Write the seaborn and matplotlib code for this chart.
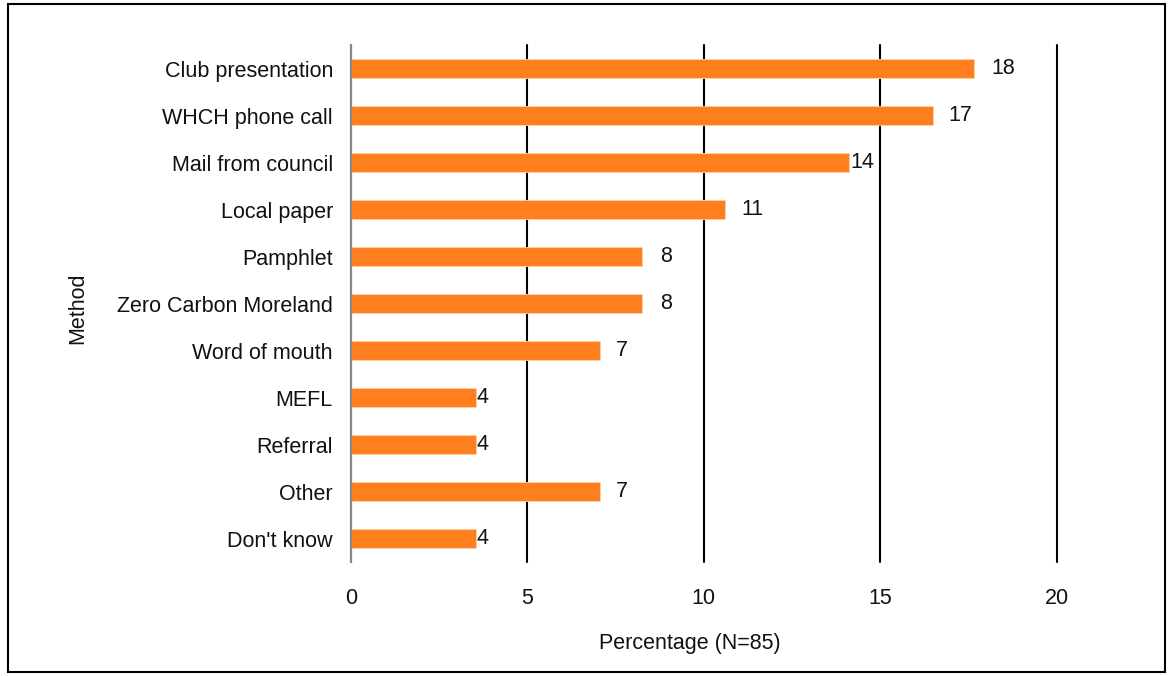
import pandas as pd
import seaborn as sns
import matplotlib.pyplot as plt
from matplotlib.patches import Rectangle

# survey responses: how people heard about the program (N=85)
methods = ["Club presentation", "WHCH phone call", "Mail from council", "Local paper",
           "Pamphlet", "Zero Carbon Moreland", "Word of mouth", "MEFL", "Referral",
           "Other", "Don't know"]
percentages = [17.65, 16.5, 14.12, 10.59, 8.24, 8.24, 7.06, 3.53, 3.53, 7.06, 3.53]
value_labels = ["18", "17", "14", "11", "8", "8", "7", "4", "4", "7", "4"]
x_ticks = [0, 5, 10, 15, 20]

BAR_COLOR = "#FF7F1E"
FS = 15.5
# excel had some labels nudged against the bar end
LABEL_PAD = [13, 11, 1, 12, 13, 13, 11, 1, 1, 11, 1]

sns.set_theme(style="white")
plt.rcParams['font.family'] = ['Liberation Sans', 'DejaVu Sans']

df = pd.DataFrame({"Method": methods, "Percentage": percentages})

fig = plt.figure(figsize=(11.69, 6.76), dpi=100)
ax = fig.add_axes([0.3003, 0.1686, 0.6036, 0.7648])

sns.barplot(data=df, y="Method", x="Percentage", orient="h", color=BAR_COLOR,
            saturation=1, width=0.42, edgecolor="#FFD0A8", linewidth=0.6, ax=ax)

bars = ax.containers[0]
for rect, lab, pad in zip(bars, value_labels, LABEL_PAD):
    ax.annotate(lab, (rect.get_x() + rect.get_width(), rect.get_y() + rect.get_height() / 2),
                xytext=(pad, 0), textcoords="offset points", ha="left", va="center",
                fontsize=FS, color="#111111")

ax.set_xlim(0, 20)
ax.set_xticks(x_ticks)
ax.set_xticklabels([str(t) for t in x_ticks])
ax.set_ylim(len(methods) - 0.5, -0.5)
ax.xaxis.grid(True, color="black", linewidth=1.5)
ax.yaxis.grid(False)
ax.set_axisbelow(True)
for gl in ax.get_xgridlines():
    gl.set_clip_on(False)

for side in ["top", "right", "bottom"]:
    ax.spines[side].set_visible(False)
ax.spines["left"].set_color("#888888")
ax.spines["left"].set_linewidth(1.5)

ax.tick_params(axis="x", length=0, pad=19, labelsize=FS, labelcolor="#111111")
ax.tick_params(axis="y", length=0, pad=13, labelsize=FS, labelcolor="#111111")

ax.set_xlabel("Percentage (N=85)", fontsize=FS, color="#111111")
ax.set_ylabel("Method", fontsize=FS, color="#111111")
ax.xaxis.set_label_coords(0.48, -0.137)
ax.yaxis.set_label_coords(-0.372, 0.49)

# outer chart frame
fig.patches.append(Rectangle((0.0068, 0.006), 0.9898, 0.988, transform=fig.transFigure,
                             fill=False, edgecolor="black", linewidth=1.5))

fig.savefig("out.png", dpi=100)
